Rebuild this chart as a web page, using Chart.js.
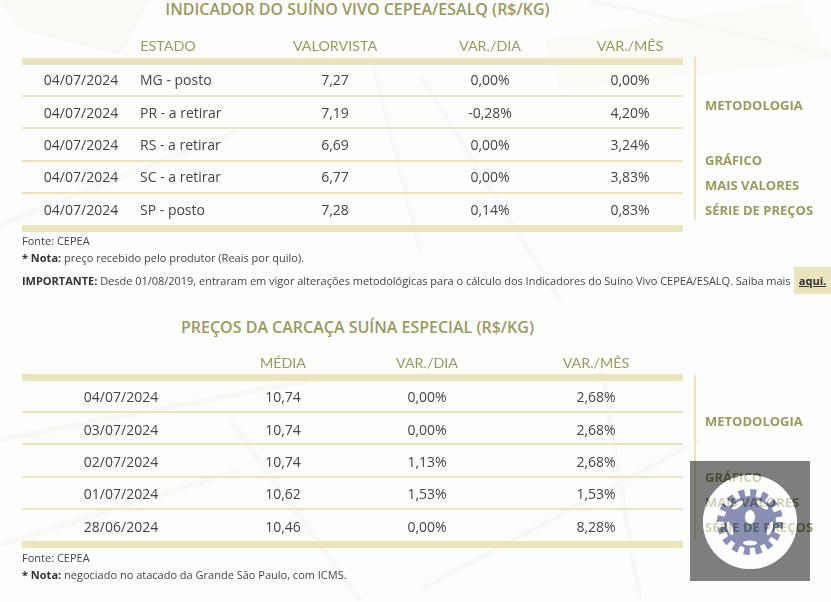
<!DOCTYPE html>
<html lang="pt-BR">
<head>
<meta charset="utf-8">
<title>Indicador do Suíno Vivo</title>
<script src="https://cdn.jsdelivr.net/npm/chart.js@4"></script>
<style>
  html, body { margin: 0; padding: 0; }
  body { width: 831px; height: 602px; overflow: hidden; position: relative; background: #fdfdfb; font-family: "Open Sans", sans-serif; color: #444; }
  #bg { position: absolute; left: 0; top: 0; }
  canvas { position: absolute; left: 0; }
  .titulo { position: absolute; left: 0; width: 715px; text-align: center; font-size: 16px; line-height: 20px; font-weight: 600; color: #9a9a5f; white-space: nowrap; }
  .note { position: absolute; left: 22px; font-size: 11px; line-height: 14px; white-space: nowrap; }
  .note b { color: #333; }
  .aqui { position: absolute; left: 794px; top: 267px; width: 37px; height: 27px; background: #ebe5bd; font-size: 11px; line-height: 27px; font-weight: 700; text-align: center; text-decoration: underline; color: #333; }
  .side { position: absolute; left: 694px; width: 2px; background: #ebe5bd; }
  .link { position: absolute; left: 705px; font-size: 13px; line-height: 18px; font-weight: 700; color: #9a9a5f; white-space: nowrap; }
  #seal { position: absolute; left: 690px; top: 461px; }
</style>
</head>
<body>
<svg id="bg" width="831" height="602">
  <g fill="none" stroke="#f9f8f5">
    <polygon points="0,0 150,0 120,55 20,30" fill="#faf9f6" stroke="none"/>
    <polygon points="545,40 800,0 831,60 560,90" fill="#fbfbf8" stroke="none"/>
    <path d="M370 50 L420 250 M420 75 L560 300 M590 0 L831 55" stroke-width="5"/>
    <path d="M0 225 L240 130 M0 440 L310 380 M230 420 L360 600 M0 545 L240 470" stroke-width="6"/>
    <path d="M600 360 L640 600 M420 590 L700 440" stroke-width="5"/>
  </g>
</svg>

<div class="titulo" id="tituloVivo" style="top:-1px"></div>
<div class="titulo" id="tituloCarcaca" style="top:317px"></div>

<canvas id="tabelaVivo" width="715" height="240" style="top:0;width:715px;height:240px"></canvas>
<canvas id="tabelaCarcaca" width="715" height="240" style="top:316px;width:715px;height:240px"></canvas>

<div class="side" style="top:57px;height:163px"></div>
<div class="side" style="top:375px;height:165px"></div>

<div class="link" style="top:96px">METODOLOGIA</div>
<div class="link" style="top:151px">GRÁFICO</div>
<div class="link" style="top:176px">MAIS VALORES</div>
<div class="link" style="top:201px">SÉRIE DE PREÇOS</div>
<div class="link" style="top:412px">METODOLOGIA</div>
<div class="link" style="top:468px">GRÁFICO</div>
<div class="link" style="top:493px">MAIS VALORES</div>
<div class="link" style="top:518px">SÉRIE DE PREÇOS</div>

<div class="note" style="top:234px">Fonte: CEPEA</div>
<div class="note" style="top:251px"><b>* Nota:</b> preço recebido pelo produtor (Reais por quilo).</div>
<div class="note" style="top:274px;letter-spacing:-0.02px"><b>IMPORTANTE:</b> Desde 01/08/2019, entraram em vigor alterações metodológicas para o cálculo dos Indicadores do Suíno Vivo CEPEA/ESALQ. Saiba mais</div>
<div class="aqui">aqui.</div>
<div class="note" style="top:551px">Fonte: CEPEA</div>
<div class="note" style="top:568px"><b>* Nota:</b> negociado no atacado da Grande São Paulo, com ICMS.</div>

<svg id="seal" width="120" height="120" viewBox="0 0 120 120">
  <defs>
    <g id="engrenagem">
      <circle cx="60" cy="61" r="29" fill="none" stroke-width="8" stroke-dasharray="6 5.39"/>
      <circle cx="60" cy="61" r="26" stroke="none"/>
    </g>
    <g id="furos" stroke="none">
      <ellipse cx="60" cy="82" rx="7" ry="2.5"/>
      <ellipse cx="60" cy="82" rx="7" ry="2.5" transform="rotate(72 60 61)"/>
      <ellipse cx="60" cy="82" rx="7" ry="2.5" transform="rotate(144 60 61)"/>
      <ellipse cx="60" cy="82" rx="7" ry="2.5" transform="rotate(216 60 61)"/>
      <ellipse cx="60" cy="82" rx="7" ry="2.5" transform="rotate(288 60 61)"/>
      <ellipse cx="60" cy="56" rx="5" ry="7"/>
    </g>
    <mask id="soEngrenagem">
      <use href="#engrenagem" fill="#fff" stroke="#fff"/>
      <use href="#furos" fill="#000"/>
    </mask>
    <mask id="semEngrenagem">
      <rect width="120" height="120" fill="#fff"/>
      <use href="#engrenagem" fill="#000" stroke="#000"/>
      <use href="#furos" fill="#fff"/>
    </mask>
  </defs>
  <path fill="rgba(0,0,0,0.5)" fill-rule="evenodd" d="M0 0H120V120H0Z M60 14A47 47 0 1 0 60 108A47 47 0 1 0 60 14Z"/>
  <circle cx="60" cy="61" r="47" fill="rgba(255,255,255,0.55)" mask="url(#semEngrenagem)"/>
  <rect width="120" height="120" fill="rgba(23,35,107,0.5)" mask="url(#soEngrenagem)"/>
</svg>

<script>
// tabela 1 - indicador do suino vivo
const tituloVivo = 'INDICADOR DO SUÍNO VIVO CEPEA/ESALQ (R$/KG)';
const cabecalhoVivo = ['', 'ESTADO', 'VALORVISTA', 'VAR./DIA', 'VAR./MÊS'];
const datasVivo = ['04/07/2024', '04/07/2024', '04/07/2024', '04/07/2024', '04/07/2024'];
const estados = ['MG - posto', 'PR - a retirar', 'RS - a retirar', 'SC - a retirar', 'SP - posto'];
const valorVista = ['7,27', '7,19', '6,69', '6,77', '7,28'];
const varDiaVivo = ['0,00%', '-0,28%', '0,00%', '0,00%', '0,14%'];
const varMesVivo = ['0,00%', '4,20%', '3,24%', '3,83%', '0,83%'];

// tabela 2 - carcaca suina especial
const tituloCarcaca = 'PREÇOS DA CARCAÇA SUÍNA ESPECIAL (R$/KG)';
const cabecalhoCarcaca = ['', 'MÉDIA', 'VAR./DIA', 'VAR./MÊS'];
const datasCarcaca = ['04/07/2024', '03/07/2024', '02/07/2024', '01/07/2024', '28/06/2024'];
const media = ['10,74', '10,74', '10,74', '10,62', '10,46'];
const varDiaCarcaca = ['0,00%', '0,00%', '1,13%', '1,53%', '0,00%'];
const varMesCarcaca = ['2,68%', '2,68%', '2,68%', '1,53%', '8,28%'];

// centro de cada coluna, em px da pagina
const colunasVivo = [81, 168, 335, 490, 630];
const colunasCarcaca = [121, 283, 427, 596];

const corFaixa = '#ebe5bd';
const corTitulo = '#9a9a5f';
const corTexto = '#444';

document.getElementById('tituloVivo').textContent = tituloVivo;
document.getElementById('tituloCarcaca').textContent = tituloCarcaca;

// escreve o texto de cada celula no ponto calculado pelas escalas
const celulas = {
    id: 'celulas',
    beforeDatasetsDraw(chart) {
        const { ctx, chartArea } = chart;
        ctx.save();
        ctx.fillStyle = corFaixa;
        ctx.fillRect(chartArea.left, chartArea.top - 5.5, chartArea.width, 7);
        ctx.fillRect(chartArea.left, chartArea.bottom - 0.5, chartArea.width, 7);
        ctx.restore();
    },
    afterDatasetsDraw(chart, args, opts) {
        const { ctx } = chart;
        ctx.save();
        ctx.font = '14px "Open Sans"';
        ctx.fillStyle = corTexto;
        ctx.textBaseline = 'middle';
        chart.data.datasets.forEach((ds, d) => {
            chart.getDatasetMeta(d).data.forEach((pt, i) => {
                ctx.textAlign = ds.recuo ? 'left' : 'center';
                ctx.fillText(ds.textos[i], pt.x - ds.recuo, pt.y + opts.desceTexto);
            });
        });
        ctx.restore();
    }
};

function criaTabela(id, cabecalho, colunas, linhas, textos, desceTexto, folgaCabecalho) {
    new Chart(document.getElementById(id), {
        type: 'scatter',
        data: {
            datasets: textos.map((col, c) => ({
                data: col.map((_, i) => ({ x: colunas[c], y: i })),
                textos: col,
                recuo: col === estados ? 28 : 0,
                pointRadius: 0
            }))
        },
        options: {
            responsive: false,
            animation: false,
            events: [],
            layout: { padding: { left: 22, right: 32, top: 0, bottom: 14.5 } },
            plugins: {
                legend: { display: false },
                tooltip: { enabled: false },
                celulas: { desceTexto }
            },
            scales: {
                x: {
                    type: 'linear',
                    position: 'top',
                    min: 22,
                    max: 683,
                    grid: { display: false, drawTicks: false },
                    border: { display: false },
                    afterBuildTicks: s => { s.ticks = colunas.map(v => ({ value: v })); },
                    afterFit: s => { s.height = 63.5; },
                    ticks: {
                        autoSkip: false,
                        maxRotation: 0,
                        padding: folgaCabecalho,
                        color: corTitulo,
                        font: { family: 'Lato', size: 14.3 },
                        callback: (v, i) => cabecalho[i]
                    }
                },
                y: {
                    type: 'category',
                    labels: linhas,
                    offset: true,
                    grid: { offset: true, color: corFaixa, lineWidth: 2, drawTicks: false },
                    border: { display: false },
                    ticks: { display: false },
                    afterFit: s => { s.width = 0; }
                }
            }
        },
        plugins: [celulas]
    });
}

criaTabela('tabelaVivo', cabecalhoVivo, colunasVivo, estados,
    [datasVivo, estados, valorVista, varDiaVivo, varMesVivo], 1.5, 9);
criaTabela('tabelaCarcaca', cabecalhoCarcaca, colunasCarcaca, datasCarcaca,
    [datasCarcaca, media, varDiaCarcaca, varMesCarcaca], 2.5, 8);
</script>
</body>
</html>
